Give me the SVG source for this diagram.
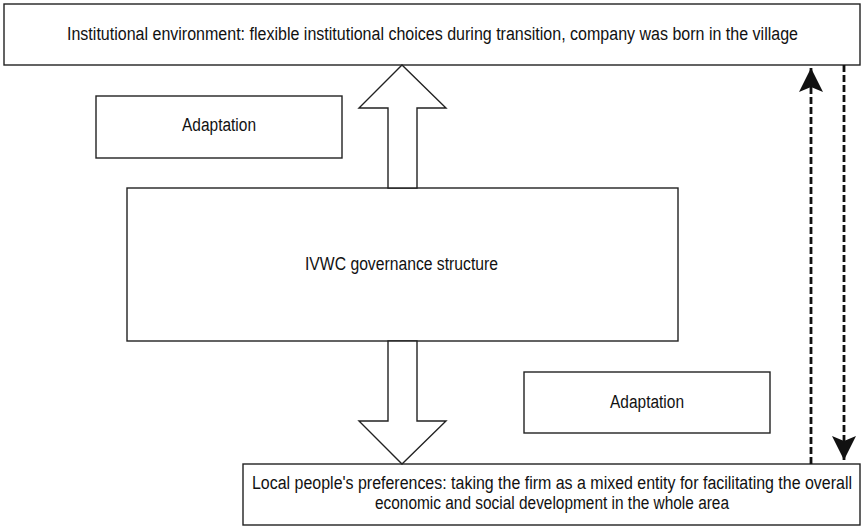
<svg xmlns="http://www.w3.org/2000/svg" width="862" height="527" viewBox="0 0 862 527">
<style>
.box{fill:#fff;stroke:#222;stroke-width:1.4}
.blk{fill:#fff;stroke:#222;stroke-width:1.4;stroke-linejoin:miter}
.t{font-family:"Liberation Sans",Arial,sans-serif;font-size:18px;fill:#111;text-anchor:middle}
.dash{fill:none;stroke:#111;stroke-width:2.8;stroke-dasharray:7 3}
</style>
<defs>
<marker id="ah" viewBox="0 0 24 24" refX="24" refY="12" markerWidth="24" markerHeight="24" markerUnits="userSpaceOnUse" orient="auto">
<path d="M0,0 L24,12 L0,24 L5,12 Z" fill="#111"/>
</marker>
</defs>
<rect width="862" height="527" fill="#fff"/>
<g id="institutional">
<rect class="box" x="4" y="4" width="856" height="61"/>
<text class="t" x="432.5" y="40" textLength="731" lengthAdjust="spacingAndGlyphs">Institutional environment: flexible institutional choices during transition, company was born in the village</text>
</g>
<g id="adaptation1">
<rect class="box" x="96" y="96" width="246" height="62"/>
<text class="t" x="219" y="131" textLength="74" lengthAdjust="spacingAndGlyphs">Adaptation</text>
</g>
<g id="governance">
<rect class="box" x="127" y="188" width="551" height="153"/>
<text class="t" x="401.5" y="270" textLength="193" lengthAdjust="spacingAndGlyphs">IVWC governance structure</text>
</g>
<g id="adaptation2">
<rect class="box" x="524" y="372" width="246" height="61"/>
<text class="t" x="647" y="408" textLength="74" lengthAdjust="spacingAndGlyphs">Adaptation</text>
</g>
<g id="local">
<rect class="box" x="243" y="464" width="617" height="61"/>
<text class="t" x="552" y="489" textLength="600" lengthAdjust="spacingAndGlyphs">Local people's preferences: taking the firm as a mixed entity for facilitating the overall</text>
<text class="t" x="552" y="509" textLength="354" lengthAdjust="spacingAndGlyphs">economic and social development in the whole area</text>
</g>
<g id="connectors">
<polygon class="blk" points="388,188 388,108 359,108 402,65 446,108 417,108 417,188"/>
<polygon class="blk" points="388,341 388,421 359,421 402,464 446,421 417,421 417,341"/>
<line class="dash" x1="811" y1="464" x2="811" y2="68" marker-end="url(#ah)"/>
<line class="dash" x1="844" y1="65" x2="844" y2="460" marker-end="url(#ah)"/>
</g>
</svg>
